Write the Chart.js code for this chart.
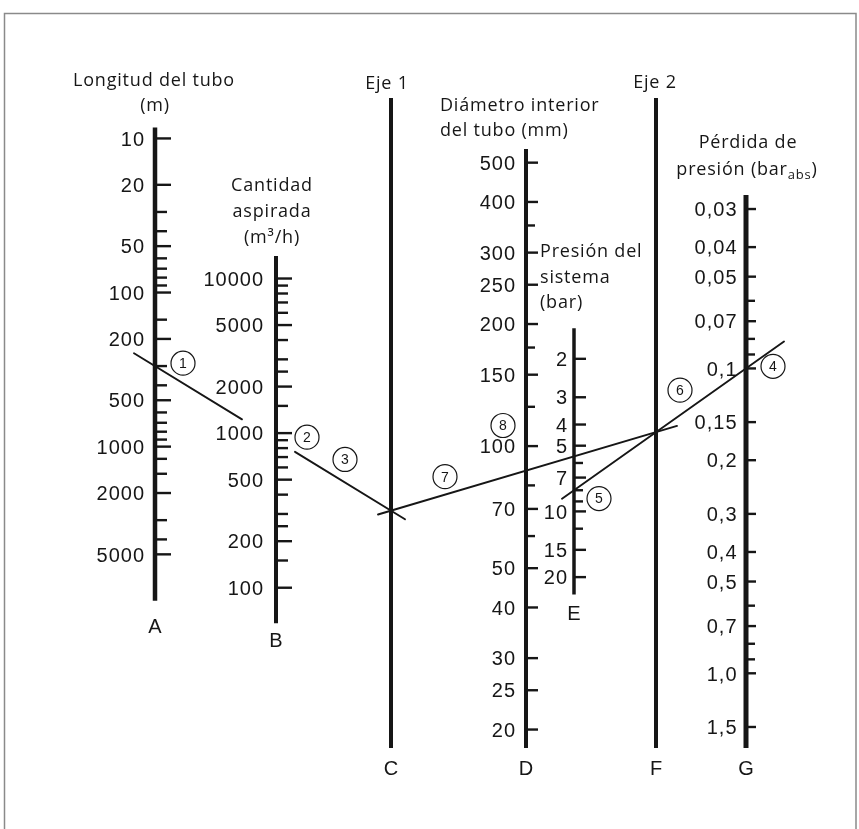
<!DOCTYPE html>
<html lang="es">
<head>
<meta charset="utf-8">
<title>Nomograma - pérdida de presión en tuberías de vacío</title>
<script src="https://cdn.jsdelivr.net/npm/chart.js@4.4.1/dist/chart.umd.min.js"></script>
<style>
  html, body { margin: 0; padding: 0; background: #fff; }
  #wrap { width: 859px; height: 829px; }
</style>
</head>
<body>
<div id="wrap"><canvas id="nomo" width="859" height="829"></canvas></div>
<script>
// scale divisions
const lengthValues = [10, 20, 50, 100, 200, 500, 1000, 2000, 5000];
const lengthMinor = [30, 40, 60, 70, 80, 90, 150, 300, 400, 600, 700, 800, 900, 1200, 1500, 3000, 4000];
const flowValues = [10000, 5000, 2000, 1000, 500, 200, 100];
const flowMinor = [9000, 8000, 7000, 6000, 4000, 3000, 2500, 1500, 900, 800, 700, 600, 400, 300, 250, 150];
const diameterValues = [500, 400, 300, 250, 200, 150, 100, 70, 50, 40, 30, 25, 20];
const diameterMinor = [350, 175, 125, 80, 60];
const pressureValues = [2, 3, 4, 5, 7, 10, 15, 20];
const pressureMinor = [6, 8, 9, 12];
const lossValues = [0.03, 0.04, 0.05, 0.07, 0.1, 0.15, 0.2, 0.3, 0.4, 0.5, 0.7, 1.0, 1.5];
const lossMinor = [0.06, 0.08, 0.09, 0.6, 0.8, 0.9];
const lossLabels = ['0,03', '0,04', '0,05', '0,07', '0,1', '0,15', '0,2', '0,3', '0,4', '0,5', '0,7', '1,0', '1,5'];

// worked example (circled steps)
const exampleLength = 300;    // m
const exampleFlow = 900;      // m3/h
const examplePressure = 8;    // bar
const exampleLoss = 0.1;      // bar abs

const INK = '#161616';
const TICK_FONT = '20px "Liberation Sans", Arial, sans-serif';
const TITLE_FONT = '18px "Open Sans", "Noto Sans", sans-serif';

// axis layout: x position, spine extent (in scale values), tick sizes
const axisDefs = [
  { id: 'A', scale: 'yA', x: 155, span: [8.5, 10000], values: lengthValues, minor: lengthMinor,
    labels: lengthValues.map(String), majorLen: 16, minorLen: 12, gap: 11, width: 4.5, letterDy: 32 },
  { id: 'B', scale: 'yB', x: 276, span: [14000, 59], values: flowValues, minor: flowMinor,
    labels: flowValues.map(String), majorLen: 16, minorLen: 12, gap: 13, width: 4, letterDy: 24 },
  { id: 'C', scale: null, x: 391, width: 4, letterDy: 27 },
  { id: 'D', scale: 'yD', x: 526, span: [540, 18.01], values: diameterValues, minor: diameterMinor,
    labels: diameterValues.map(String), majorLen: 12, minorLen: 9, gap: 11, width: 4, letterDy: 27 },
  { id: 'E', scale: 'yE', x: 574, span: [1.45, 24], values: pressureValues, minor: pressureMinor,
    labels: pressureValues.map(String), majorLen: 12, minorLen: 9, gap: 7, width: 3.5, letterDy: 26 },
  { id: 'F', scale: null, x: 656, width: 4, letterDy: 27 },
  { id: 'G', scale: 'yG', x: 746, span: [0.027, 1.758], values: lossValues, minor: lossMinor,
    labels: lossLabels, majorLen: 10, minorLen: 9, gap: 9.5, width: 5, letterDy: 27 }
];

const titleLines = [
  { text: 'Longitud del tubo', x: 154, y: 86 },
  { text: '(m)', x: 155, y: 111 },
  { text: 'Cantidad', x: 272, y: 191 },
  { text: 'aspirada', x: 272, y: 217 },
  { text: '(m³/h)', x: 272, y: 243 },
  { text: 'Eje 1', x: 387, y: 89 },
  { text: 'Diámetro interior', x: 440, y: 111, align: 'left' },
  { text: 'del tubo (mm)', x: 440, y: 136, align: 'left' },
  { text: 'Presión del', x: 540, y: 257, align: 'left' },
  { text: 'sistema', x: 540, y: 283, align: 'left' },
  { text: '(bar)', x: 540, y: 308, align: 'left' },
  { text: 'Eje 2', x: 655, y: 88 },
  { text: 'Pérdida de', x: 748, y: 148 }
];

// visible stretch of each construction line (x from / to)
const pathSpans = [
  { path: 'AC', from: 134, to: 242 },
  { path: 'AC', from: 295, to: 405 },
  { path: 'CF', from: 378, to: 677 },
  { path: 'EG', from: 562, to: 784 }
];

// circled step numbers, placed relative to their line
const stepMarks = [
  { n: '1', path: 'AC', x: 183, dy: -20 },
  { n: '2', path: 'AC', x: 307, dy: -22 },
  { n: '3', path: 'AC', x: 345, dy: -23 },
  { n: '4', path: 'EG', x: 773, dy: 17 },
  { n: '5', path: 'EG', x: 599, dy: 26 },
  { n: '6', path: 'EG', x: 680, dy: -25 },
  { n: '7', path: 'CF', x: 445, dy: -18 },
  { n: '8', path: 'CF', x: 503, dy: -52 }
];

function lineY(p, q, x) {
  return p[1] + (x - p[0]) * (q[1] - p[1]) / (q[0] - p[0]);
}

function drawAxis(ctx, chart, def) {
  const area = chart.chartArea;
  const x = chart.scales.x.getPixelForValue(def.x);
  const scale = def.scale ? chart.scales[def.scale] : null;
  const top = scale ? scale.getPixelForValue(def.span[0]) : area.top;
  const bottom = scale ? scale.getPixelForValue(def.span[1]) : area.bottom;

  ctx.strokeStyle = INK;
  ctx.lineCap = 'butt';
  ctx.lineWidth = def.width;
  ctx.beginPath();
  ctx.moveTo(x, top);
  ctx.lineTo(x, bottom);
  ctx.stroke();

  if (scale) {
    ctx.lineWidth = 2.4;
    def.minor.forEach(v => {
      const y = scale.getPixelForValue(v);
      ctx.beginPath();
      ctx.moveTo(x, y);
      ctx.lineTo(x + def.minorLen, y);
      ctx.stroke();
    });
    ctx.font = TICK_FONT;
    ctx.letterSpacing = '1px';
    ctx.fillStyle = INK;
    ctx.textAlign = 'right';
    ctx.textBaseline = 'alphabetic';
    def.values.forEach((v, i) => {
      const y = scale.getPixelForValue(v);
      ctx.beginPath();
      ctx.moveTo(x, y);
      ctx.lineTo(x + def.majorLen, y);
      ctx.stroke();
      ctx.fillText(def.labels[i], x - def.gap + 1, y + 7.2);
    });
    ctx.letterSpacing = '0px';
  }

  ctx.font = TICK_FONT;
  ctx.fillStyle = INK;
  ctx.textAlign = 'center';
  ctx.textBaseline = 'alphabetic';
  ctx.fillText(def.id, x, bottom + def.letterDy);
}

const nomogramPlugin = {
  id: 'nomogram',
  afterDraw(chart) {
    const ctx = chart.ctx;
    const xs = chart.scales.x;
    const byId = {};
    axisDefs.forEach(d => { byId[d.id] = d; });
    const ax = id => xs.getPixelForValue(byId[id].x);

    ctx.save();

    // outer frame
    ctx.strokeStyle = '#8a8a8a';
    ctx.lineWidth = 1.5;
    ctx.strokeRect(4.5, 13.5, 851.5, 840);

    axisDefs.forEach(d => drawAxis(ctx, chart, d));

    // titles
    ctx.font = TITLE_FONT;
    ctx.letterSpacing = '0.8px';
    ctx.fillStyle = INK;
    ctx.textBaseline = 'alphabetic';
    titleLines.forEach(t => {
      ctx.textAlign = t.align || 'center';
      ctx.fillText(t.text, t.x, t.y);
    });
    // "presión (bar_abs)" with subscript
    const partA = 'presión (bar', partSub = 'abs', partB = ')';
    const subFont = '13px "Open Sans", "Noto Sans", sans-serif';
    const wA = ctx.measureText(partA).width;
    ctx.font = subFont;
    const wSub = ctx.measureText(partSub).width;
    ctx.font = TITLE_FONT;
    const wB = ctx.measureText(partB).width;
    let tx = 747 - (wA + wSub + wB) / 2;
    ctx.textAlign = 'left';
    ctx.fillText(partA, tx, 175);
    tx += wA;
    ctx.font = subFont;
    ctx.fillText(partSub, tx, 179);
    tx += wSub;
    ctx.font = TITLE_FONT;
    ctx.fillText(partB, tx, 175);
    ctx.letterSpacing = '0px';

    // construction lines of the worked example
    const pA = [ax('A'), chart.scales.yA.getPixelForValue(exampleLength)];
    const pB = [ax('B'), chart.scales.yB.getPixelForValue(exampleFlow)];
    const pC = [ax('C'), 0];
    pC[1] = lineY(pA, pB, pC[0]);
    const pE = [ax('E'), chart.scales.yE.getPixelForValue(examplePressure)];
    const pG = [ax('G'), chart.scales.yG.getPixelForValue(exampleLoss)];
    const pF = [ax('F'), 0];
    pF[1] = lineY(pE, pG, pF[0]);
    const paths = { AC: [pA, pC], CF: [pC, pF], EG: [pE, pG] };

    ctx.strokeStyle = INK;
    ctx.lineWidth = 1.9;
    ctx.lineCap = 'round';
    pathSpans.forEach(s => {
      const [p, q] = paths[s.path];
      const x1 = xs.getPixelForValue(s.from), x2 = xs.getPixelForValue(s.to);
      ctx.beginPath();
      ctx.moveTo(x1, lineY(p, q, x1));
      ctx.lineTo(x2, lineY(p, q, x2));
      ctx.stroke();
    });

    // circled step numbers
    ctx.lineWidth = 1.2;
    ctx.font = '14px "Liberation Sans", Arial, sans-serif';
    ctx.textAlign = 'center';
    ctx.textBaseline = 'middle';
    stepMarks.forEach(m => {
      const [p, q] = paths[m.path];
      const cx = xs.getPixelForValue(m.x);
      const cy = lineY(p, q, cx) + m.dy;
      ctx.fillStyle = '#fff';
      ctx.beginPath();
      ctx.arc(cx, cy, 12, 0, Math.PI * 2);
      ctx.fill();
      ctx.stroke();
      ctx.fillStyle = INK;
      ctx.fillText(m.n, cx, cy + 1);
    });

    ctx.restore();
  }
};

const logAxis = (min, max, reverse) => ({
  type: 'logarithmic', axis: 'y', position: 'left', display: false,
  bounds: 'data', min: min, max: max, reverse: reverse
});

new Chart(document.getElementById('nomo'), {
  type: 'scatter',
  data: { datasets: [] },
  options: {
    responsive: false,
    animation: false,
    events: [],
    layout: { padding: { top: 98, bottom: 81, left: 0, right: 0 } },
    plugins: { legend: { display: false }, tooltip: { enabled: false } },
    scales: {
      x: { type: 'linear', min: 0, max: 859, display: false },
      y: { type: 'linear', display: false },
      yA: logAxis(5.465, 90300, true),
      yB: logAxis(9.19, 147100, false),
      yD: logAxis(18.01, 721.8, false),
      yE: logAxis(0.1277, 121.3, true),
      yG: logAxis(0.01297, 1.758, true)
    }
  },
  plugins: [nomogramPlugin]
});
</script>
</body>
</html>
